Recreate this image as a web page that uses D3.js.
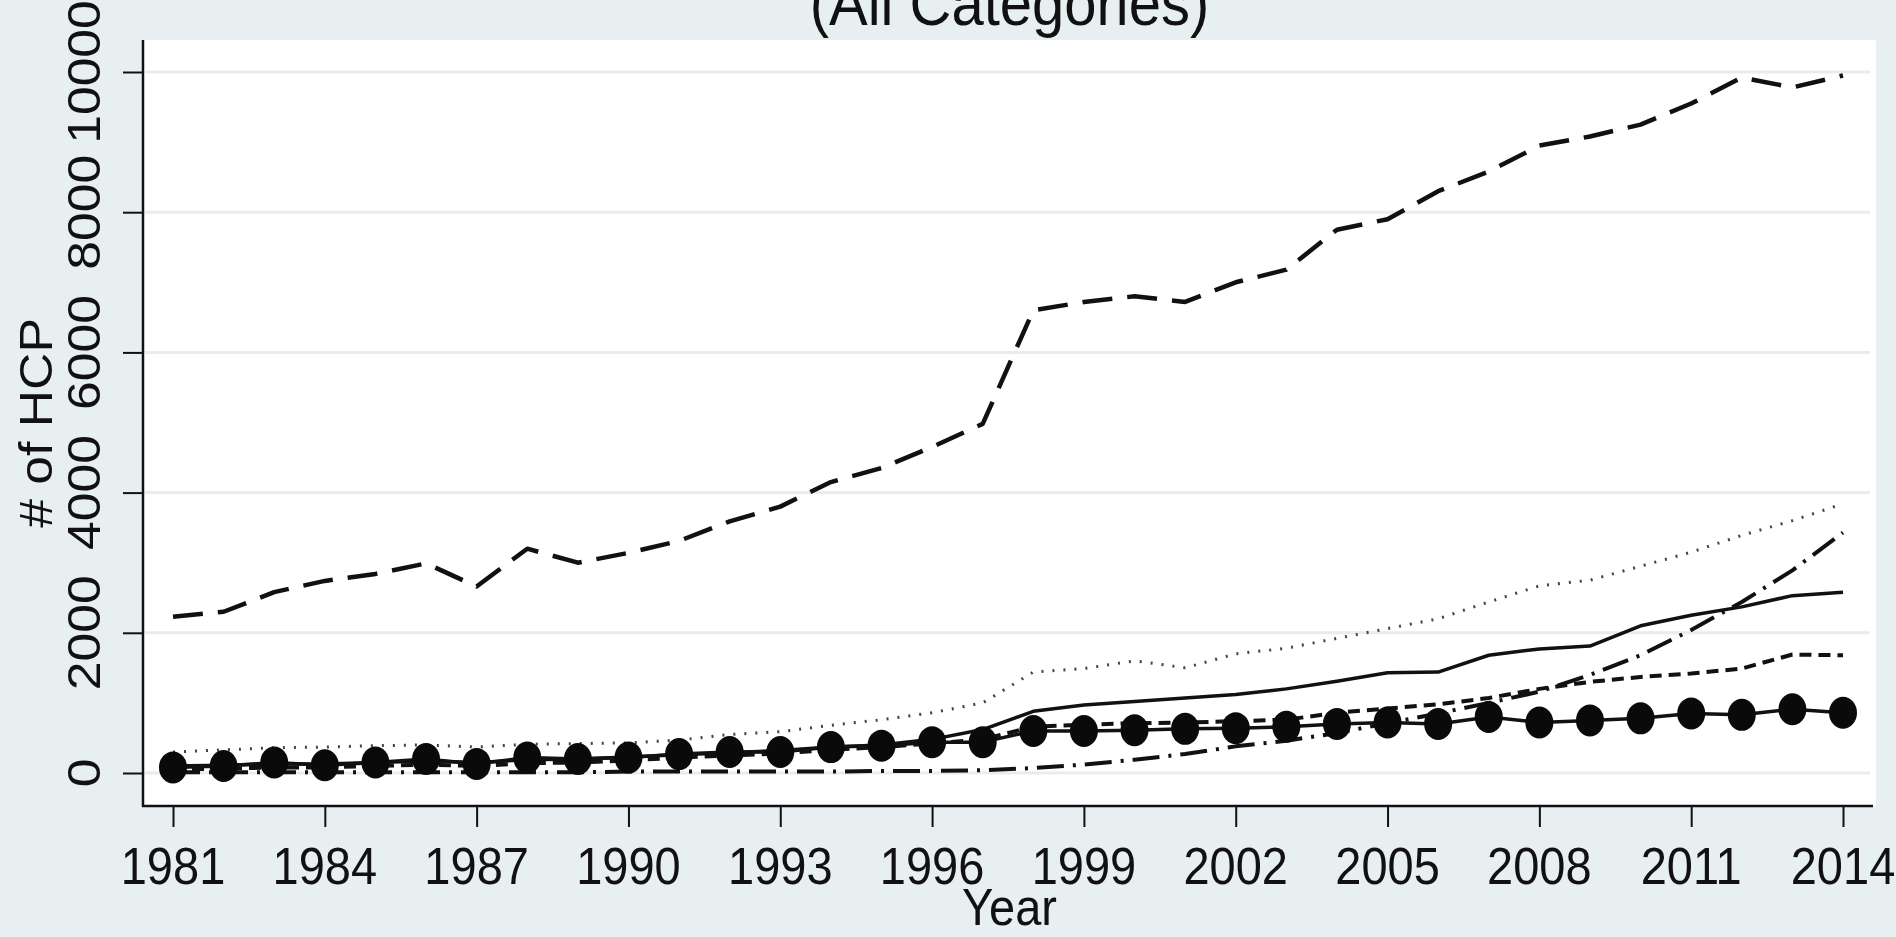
<!DOCTYPE html>
<html>
<head>
<meta charset="utf-8">
<script src="https://cdn.jsdelivr.net/npm/d3@7"></script>
<style>
  html, body { margin: 0; padding: 0; background: #e8eff1; }
  svg { display: block; }
  text { font-family: "Liberation Sans", Arial, sans-serif; fill: #111; }
</style>
</head>
<body>
<svg id="chart" width="1896" height="937"></svg>
<script>
const years = d3.range(1981, 2015);
const xTicks = [1981, 1984, 1987, 1990, 1993, 1996, 1999, 2002, 2005, 2008, 2011, 2014];
const yTicks = [0, 2000, 4000, 6000, 8000, 10000];

const seriesLongDash = [2230, 2300, 2580, 2740, 2840, 2990, 2660, 3200, 3000, 3140, 3310, 3590, 3800, 4150, 4350, 4650, 4980, 6600, 6720, 6800, 6720, 7000, 7180, 7750, 7900, 8300, 8580, 8950, 9080, 9250, 9550, 9920, 9780, 9950];
const seriesDotted = [300, 330, 360, 370, 390, 400, 370, 410, 420, 430, 470, 550, 590, 680, 760, 860, 1000, 1440, 1490, 1600, 1500, 1700, 1780, 1920, 2060, 2200, 2440, 2670, 2750, 2950, 3150, 3390, 3600, 3840];
const seriesDashDot = [10, 10, 10, 10, 10, 10, 10, 10, 10, 20, 20, 20, 20, 20, 30, 30, 40, 70, 120, 190, 270, 380, 460, 570, 710, 850, 1000, 1160, 1400, 1680, 2040, 2440, 2890, 3430];
const seriesSolid = [100, 110, 130, 130, 150, 170, 150, 190, 200, 230, 260, 290, 320, 370, 400, 480, 620, 880, 970, 1020, 1070, 1120, 1200, 1310, 1430, 1440, 1680, 1770, 1810, 2100, 2250, 2370, 2530, 2580];
const seriesShortDash = [50, 60, 80, 80, 100, 120, 100, 140, 150, 180, 220, 250, 280, 330, 370, 420, 480, 660, 690, 710, 720, 740, 760, 860, 920, 980, 1070, 1200, 1300, 1370, 1420, 1490, 1690, 1680];
const seriesCircles = [80, 100, 150, 110, 150, 200, 130, 220, 200, 220, 270, 300, 300, 370, 390, 440, 440, 600, 600, 610, 630, 640, 660, 700, 720, 700, 800, 720, 750, 780, 850, 830, 910, 860];

const titleText = "(All Categories)";
const xTitle = "Year";
const yTitle = "# of HCP";

const svg = d3.select("#chart");
const plot = { left: 143, right: 1876, top: 40, bottom: 806 };
const x = d3.scaleLinear().domain([1981, 2014]).range([173, 1843]);
const y = d3.scaleLinear().domain([0, 10000]).range([773, 72]);
const SY = 1.1;

// plot region
svg.append("rect").attr("x", plot.left).attr("y", plot.top)
  .attr("width", plot.right - plot.left).attr("height", plot.bottom - plot.top)
  .attr("fill", "#ffffff");

// gridlines
svg.append("g").selectAll("line").data(yTicks).join("line")
  .attr("x1", plot.left + 2).attr("x2", plot.right - 6)
  .attr("y1", d => y(d)).attr("y2", d => y(d))
  .attr("stroke", "#e9ecec").attr("stroke-width", 3);

// axes
const yAxis = d3.axisLeft(y).tickValues(yTicks).tickSize(20).tickFormat("");
const gy = svg.append("g").attr("transform", `translate(${plot.left},0)`).call(yAxis);
gy.select(".domain").remove();
gy.selectAll(".tick line").attr("stroke", "#111").attr("stroke-width", 2);

const xAxis = d3.axisBottom(x).tickValues(xTicks).tickSize(21).tickFormat("");
const gx = svg.append("g").attr("transform", `translate(0,${plot.bottom})`).call(xAxis);
gx.select(".domain").remove();
gx.selectAll(".tick line").attr("stroke", "#111").attr("stroke-width", 2);

svg.append("line").attr("x1", plot.left).attr("x2", plot.left)
  .attr("y1", plot.top).attr("y2", plot.bottom + 1)
  .attr("stroke", "#111").attr("stroke-width", 2.5);
svg.append("line").attr("x1", plot.left - 1).attr("x2", plot.right - 3)
  .attr("y1", plot.bottom).attr("y2", plot.bottom)
  .attr("stroke", "#111").attr("stroke-width", 2.5);

// tick labels
svg.append("g").selectAll("text").data(xTicks).join("text")
  .attr("transform", d => `translate(${x(d)},884) scale(1,${SY})`)
  .attr("text-anchor", "middle").attr("font-size", 47)
  .text(d => d);

svg.append("g").selectAll("text").data(yTicks).join("text")
  .attr("transform", d => `translate(100,${y(d)}) rotate(-90) scale(${SY},1)`)
  .attr("text-anchor", "middle").attr("font-size", 47)
  .text(d => d);

// axis titles
svg.append("text")
  .attr("transform", `translate(${(plot.left + plot.right) / 2},925) scale(1,${SY})`)
  .attr("text-anchor", "middle").attr("font-size", 47).text(xTitle);
svg.append("text")
  .attr("transform", `translate(52,${(plot.top + plot.bottom) / 2}) rotate(-90) scale(${SY},1)`)
  .attr("text-anchor", "middle").attr("font-size", 47).text(yTitle);

// title (partially cut off at top, as in the source image)
svg.append("text")
  .attr("transform", `translate(${(plot.left + plot.right) / 2},25) scale(1,${SY})`)
  .attr("text-anchor", "middle").attr("font-size", 58).text(titleText);

// lines
const line = d3.line().x((d, i) => x(years[i])).y(d => y(d));
const defs = [
  { data: seriesDotted, dash: "2,9", width: 3, color: "#444" },
  { data: seriesDashDot, dash: "27,9,3,9", width: 4, color: "#111" },
  { data: seriesSolid, dash: null, width: 3.5, color: "#111" },
  { data: seriesShortDash, dash: "12,7", width: 4, color: "#111" },
  { data: seriesLongDash, dash: "30,15", width: 4.5, color: "#111" },
  { data: seriesCircles, dash: null, width: 3.5, color: "#111" }
];
svg.append("g").selectAll("path").data(defs).join("path")
  .attr("d", d => line(d.data))
  .attr("fill", "none")
  .attr("stroke", d => d.color)
  .attr("stroke-width", d => d.width)
  .attr("stroke-dasharray", d => d.dash)
  .attr("stroke-linejoin", "round");

// circle markers
svg.append("g").selectAll("ellipse").data(seriesCircles).join("ellipse")
  .attr("cx", (d, i) => x(years[i])).attr("cy", d => y(d))
  .attr("rx", 14).attr("ry", 16)
  .attr("fill", "#0a0a0a");
</script>
</body>
</html>
